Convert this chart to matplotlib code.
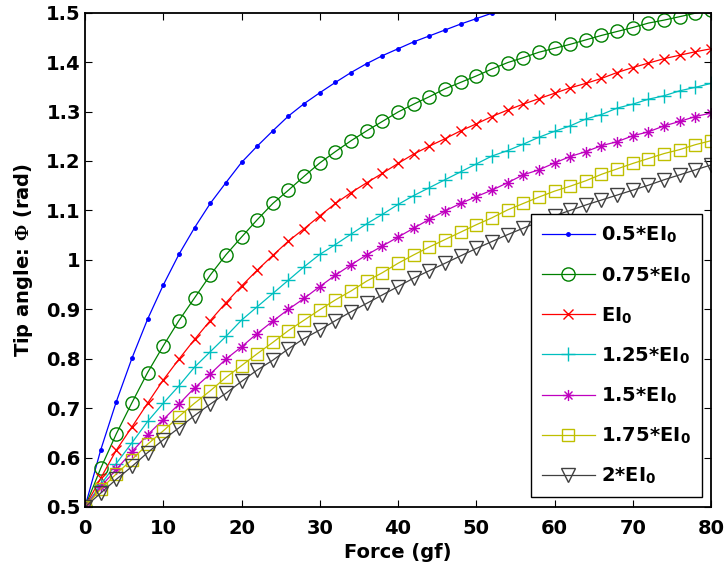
"""
Tip angle vs applied force for several bending stiffness values.
"""
import matplotlib
matplotlib.use("Agg")
import matplotlib.pyplot as plt
from matplotlib.path import Path

plt.rcParams.update({
    "font.family": "DejaVu Sans", "font.weight": "bold", "font.size": 14,
    "mathtext.fontset": "custom", "mathtext.rm": "Liberation Serif",
    "mathtext.bf": "DejaVu Sans:bold", "mathtext.default": "rm",
    "axes.linewidth": 1.3,
})

# ---- data ----
force = [0, 2, 4, 6, 8, 10, 12, 14, 16, 18, 20, 22, 24, 26, 28, 30, 32, 34, 36, 38, 40,
         42, 44, 46, 48, 50, 52, 54, 56, 58, 60, 62, 64, 66, 68, 70, 72, 74, 76, 78, 80]

phi_050 = [0.500, 0.615, 0.713, 0.801, 0.880, 0.949, 1.011, 1.065, 1.114, 1.156, 1.197,
           1.230, 1.261, 1.291, 1.316, 1.338, 1.359, 1.379, 1.397, 1.413, 1.427,
           1.441, 1.453, 1.465, 1.477, 1.488, 1.499, 1.509]
phi_075 = [0.500, 0.578, 0.648, 0.711, 0.772, 0.826, 0.877, 0.923, 0.969, 1.010, 1.046,
           1.081, 1.114, 1.141, 1.169, 1.196, 1.219, 1.241, 1.261, 1.280, 1.299,
           1.315, 1.330, 1.346, 1.359, 1.372, 1.386, 1.399, 1.409, 1.420, 1.428,
           1.436, 1.445, 1.454, 1.462, 1.470, 1.479, 1.485, 1.492, 1.499, 1.505]
phi_100 = [0.500, 0.558, 0.615, 0.662, 0.710, 0.757, 0.799, 0.839, 0.877, 0.913, 0.947,
           0.979, 1.009, 1.038, 1.063, 1.089, 1.114, 1.136, 1.156, 1.175, 1.195,
           1.214, 1.230, 1.245, 1.261, 1.275, 1.290, 1.303, 1.315, 1.326, 1.337,
           1.348, 1.357, 1.367, 1.379, 1.389, 1.398, 1.407, 1.414, 1.421, 1.427]
phi_125 = [0.500, 0.545, 0.588, 0.630, 0.673, 0.710, 0.745, 0.783, 0.814, 0.845, 0.878,
           0.905, 0.932, 0.959, 0.986, 1.011, 1.031, 1.052, 1.073, 1.092, 1.112,
           1.130, 1.146, 1.162, 1.178, 1.194, 1.210, 1.221, 1.234, 1.248, 1.260,
           1.271, 1.285, 1.294, 1.307, 1.315, 1.325, 1.332, 1.342, 1.349, 1.357]
phi_150 = [0.500, 0.541, 0.576, 0.612, 0.646, 0.677, 0.708, 0.741, 0.769, 0.799, 0.824,
           0.851, 0.876, 0.900, 0.922, 0.946, 0.969, 0.990, 1.010, 1.028, 1.046,
           1.064, 1.082, 1.099, 1.114, 1.128, 1.141, 1.156, 1.172, 1.182, 1.196,
           1.209, 1.219, 1.231, 1.239, 1.251, 1.259, 1.271, 1.280, 1.290, 1.297]
phi_175 = [0.500, 0.536, 0.567, 0.596, 0.627, 0.654, 0.683, 0.710, 0.735, 0.762, 0.786,
           0.810, 0.833, 0.857, 0.878, 0.899, 0.919, 0.937, 0.957, 0.974, 0.993,
           1.010, 1.026, 1.041, 1.056, 1.071, 1.085, 1.101, 1.114, 1.127, 1.139,
           1.149, 1.160, 1.173, 1.184, 1.195, 1.205, 1.215, 1.223, 1.233, 1.241]
phi_200 = [0.500, 0.528, 0.556, 0.582, 0.610, 0.636, 0.660, 0.685, 0.708, 0.730, 0.754,
           0.777, 0.797, 0.820, 0.841, 0.858, 0.877, 0.895, 0.912, 0.929, 0.946,
           0.963, 0.978, 0.993, 1.008, 1.023, 1.037, 1.051, 1.064, 1.077, 1.089,
           1.100, 1.111, 1.121, 1.131, 1.141, 1.151, 1.162, 1.172, 1.182, 1.192]

labels = ["0.5*EI$_\\mathbf{0}$", "0.75*EI$_\\mathbf{0}$", "EI$_\\mathbf{0}$",
          "1.25*EI$_\\mathbf{0}$", "1.5*EI$_\\mathbf{0}$", "1.75*EI$_\\mathbf{0}$",
          "2*EI$_\\mathbf{0}$"]

# MATLAB-like '*' marker: plus and cross overlaid, line strokes only
_d = 0.72
asterisk = Path([(-1, 0), (1, 0), (0, -1), (0, 1), (-_d, -_d), (_d, _d), (-_d, _d), (_d, -_d)],
                [Path.MOVETO, Path.LINETO] * 4)

# (color, marker, markersize, filled)
styles = [("#0000ff", ".", 5, True), ("#008000", "o", 9.5, False), ("#ff0000", "x", 7, True),
          ("#00bfbf", "+", 10, True), ("#bf00bf", asterisk, 8, False), ("#bfbf00", "s", 8, False),
          ("#404040", "v", 9.5, False)]


def main():
    fig = plt.figure(figsize=(7.25, 5.71), dpi=100)
    ax = fig.add_axes([85 / 725, 1 - 507 / 571, 626 / 725, 494.3 / 571])
    series = [phi_050, phi_075, phi_100, phi_125, phi_150, phi_175, phi_200]
    for ys, lb, (c, m, ms, filled) in zip(series, labels, styles):
        ax.plot(force[:len(ys)], ys, "-", color=c, marker=m, markersize=ms, linewidth=0.9,
                markerfacecolor=c if filled else "none", markeredgecolor=c,
                markeredgewidth=1.0, label=lb)
    ax.set_xlim(0, 80)
    ax.set_ylim(0.5, 1.5)
    ax.set_xticks(range(0, 81, 10))
    ax.set_yticks([0.5, 0.6, 0.7, 0.8, 0.9, 1.0, 1.1, 1.2, 1.3, 1.4, 1.5])
    ax.set_yticklabels(["0.5", "0.6", "0.7", "0.8", "0.9", "1", "1.1", "1.2", "1.3", "1.4", "1.5"])
    ax.tick_params(direction="in", top=True, right=True, length=5, width=0.8, labelsize=14)
    ax.tick_params(axis="x", pad=9)
    ax.tick_params(axis="y", pad=3)
    for t in ax.get_xticklabels() + ax.get_yticklabels():
        t.set_fontweight("bold")
    ax.set_xlabel("Force (gf)", fontweight="bold", fontsize=14, labelpad=3)
    ax.set_ylabel("Tip angle: $\\Phi$ (rad)", fontweight="bold", fontsize=14, labelpad=8)

    leg = ax.legend(loc="lower right", bbox_to_anchor=(0.9856, 0.0202), borderaxespad=0,
                    prop={"weight": "bold", "size": 14}, handlelength=2.7, labelspacing=1.0,
                    borderpad=0.55, handletextpad=0.35, fancybox=False, framealpha=1)
    leg.get_frame().set_edgecolor("black")
    leg.get_frame().set_linewidth(1.0)

    fig.savefig("out.png", dpi=100)
    plt.close(fig)


if __name__ == "__main__":
    main()
